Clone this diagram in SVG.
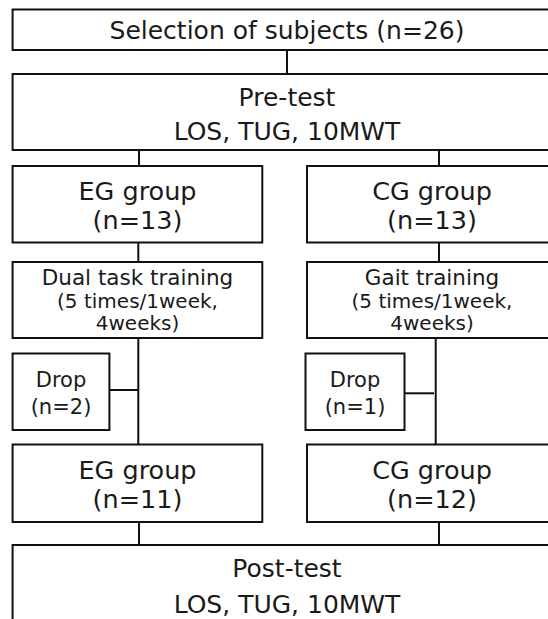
<svg xmlns="http://www.w3.org/2000/svg" width="548" height="619" viewBox="0 0 548 619">
  <style>
    .box { fill: #ffffff; stroke: #111111; stroke-width: 2; }
    .ln { fill: none; stroke: #111111; stroke-width: 2; }
    text { font-family: "DejaVu Sans", Verdana, sans-serif; fill: #1a1a1a; text-anchor: middle; }
    .big { font-size: 25px; }
    .grp { font-size: 25.5px; }
    .head { font-size: 21.5px; }
    .sub { font-size: 20px; }
    .drop { font-size: 21px; }
  </style>
  <rect width="548" height="619" fill="#ffffff"/>

  <!-- connectors -->
  <g id="connectors">
    <path class="ln" d="M287 50 V74"/>
    <path class="ln" d="M139 150 V166"/>
    <path class="ln" d="M439 150 V166"/>
    <path class="ln" d="M138.3 242.5 V262"/>
    <path class="ln" d="M439 242.5 V262"/>
    <path class="ln" d="M138.3 338 V444.5"/>
    <path class="ln" d="M435.7 338 V444.5"/>
    <path class="ln" d="M109.4 390 H138.3"/>
    <path class="ln" d="M404.5 393.3 H434"/>
    <path class="ln" d="M139 522 V545"/>
    <path class="ln" d="M439 522 V545"/>
  </g>

  <g id="selection">
    <rect class="box" x="12.6" y="9.5" width="549" height="40.5"/>
    <text class="big" x="287" y="39">Selection of subjects (n=26)</text>
  </g>

  <g id="pretest">
    <rect class="box" x="12.6" y="74" width="549" height="76"/>
    <text class="big" x="287" y="106">Pre-test</text>
    <text class="big" x="287" y="140">LOS, TUG, 10MWT</text>
  </g>

  <g id="eg-start">
    <rect class="box" x="12.6" y="166" width="249.7" height="76.5"/>
    <text class="grp" x="137.5" y="200">EG group</text>
    <text class="grp" x="137.5" y="229">(n=13)</text>
  </g>

  <g id="cg-start">
    <rect class="box" x="307" y="166" width="250" height="76.5"/>
    <text class="grp" x="432" y="200">CG group</text>
    <text class="grp" x="432" y="229">(n=13)</text>
  </g>

  <g id="eg-training">
    <rect class="box" x="12.6" y="262" width="249.7" height="76"/>
    <text class="head" x="137.5" y="285">Dual task training</text>
    <text class="sub" x="137.5" y="308">(5 times/1week,</text>
    <text class="sub" x="137.5" y="330">4weeks)</text>
  </g>

  <g id="cg-training">
    <rect class="box" x="307" y="262" width="250" height="76"/>
    <text class="head" x="432" y="285">Gait training</text>
    <text class="sub" x="432" y="308">(5 times/1week,</text>
    <text class="sub" x="432" y="330">4weeks)</text>
  </g>

  <g id="eg-drop">
    <rect class="box" x="12.6" y="353.5" width="96.8" height="76.5"/>
    <text class="drop" x="61" y="387">Drop</text>
    <text class="drop" x="61" y="414">(n=2)</text>
  </g>

  <g id="cg-drop">
    <rect class="box" x="305.5" y="353.5" width="99" height="76.5"/>
    <text class="drop" x="355" y="387">Drop</text>
    <text class="drop" x="355" y="414">(n=1)</text>
  </g>

  <g id="eg-end">
    <rect class="box" x="12.6" y="444.5" width="249.7" height="77.5"/>
    <text class="grp" x="137.5" y="479">EG group</text>
    <text class="grp" x="137.5" y="508">(n=11)</text>
  </g>

  <g id="cg-end">
    <rect class="box" x="307" y="444.5" width="250" height="77.5"/>
    <text class="grp" x="432" y="479">CG group</text>
    <text class="grp" x="432" y="508">(n=12)</text>
  </g>

  <g id="posttest">
    <rect class="box" x="12.6" y="545" width="549" height="100"/>
    <text class="big" x="287" y="577">Post-test</text>
    <text class="big" x="287" y="613">LOS, TUG, 10MWT</text>
  </g>
</svg>
